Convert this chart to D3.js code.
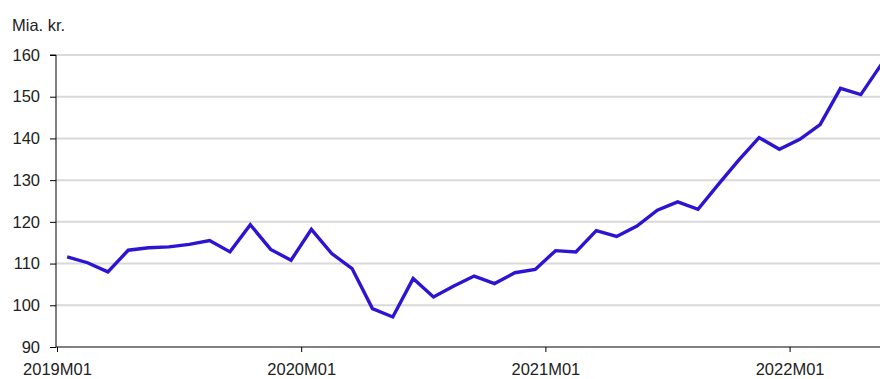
<!DOCTYPE html>
<html>
<head>
  <meta charset="utf-8">
  <script src="https://d3js.org/d3.v7.min.js"></script>
  <style>
    body { margin: 0; background: #fff; }
    svg { display: block; font-family: "Liberation Sans", Arial, sans-serif; }
  </style>
</head>
<body>
  <svg id="chart" width="880" height="379"></svg>
  <script>
  // months from 2019M01 to 2022M05
  const months = [
    "2019M01","2019M02","2019M03","2019M04","2019M05","2019M06","2019M07","2019M08","2019M09","2019M10","2019M11","2019M12",
    "2020M01","2020M02","2020M03","2020M04","2020M05","2020M06","2020M07","2020M08","2020M09","2020M10","2020M11","2020M12",
    "2021M01","2021M02","2021M03","2021M04","2021M05","2021M06","2021M07","2021M08","2021M09","2021M10","2021M11","2021M12",
    "2022M01","2022M02","2022M03","2022M04","2022M05"
  ];
  const values = [
    111.6, 110.2, 108.0, 113.2, 113.8, 114.0, 114.6, 115.5, 112.8, 119.3, 113.4, 110.8,
    118.2, 112.4, 108.8, 99.2, 97.2, 106.4, 102.0, 104.6, 107.0, 105.2, 107.8, 108.6,
    113.1, 112.8, 117.9, 116.5, 119.0, 122.8, 124.8, 123.0, 129.0, 134.8, 140.2, 137.4,
    139.8, 143.3, 152.0, 150.5, 157.7
  ];
  const yTicks = [90, 100, 110, 120, 130, 140, 150, 160];
  const xTickLabels = ["2019M01", "2020M01", "2021M01", "2022M01"];
  const unitLabel = "Mia. kr.";

  const svg = d3.select("#chart");
  const plotLeft = 56, plotTop = 55, plotBottom = 347;
  const monthW = 20.35;
  const fontSize = 16.5;

  const x = d3.scaleLinear().domain([0, months.length]).range([plotLeft + 1, plotLeft + 1 + monthW * months.length]);
  const y = d3.scaleLinear().domain([90, 160]).range([plotBottom, plotTop]);

  // gridlines
  svg.append("g")
    .selectAll("line")
    .data(yTicks.filter(d => d > 90))
    .join("line")
    .attr("x1", plotLeft).attr("x2", 880)
    .attr("y1", d => y(d)).attr("y2", d => y(d))
    .attr("stroke", "#d9d9d9")
    .attr("stroke-width", 2);

  // y axis
  const yAxis = svg.append("g")
    .attr("transform", `translate(${plotLeft},0)`)
    .call(d3.axisLeft(y).tickValues(yTicks).tickSize(6).tickPadding(10));
  yAxis.select(".domain").attr("stroke", "#000").attr("d", `M-6,${plotTop}H0V${plotBottom}`);
  yAxis.selectAll("text").attr("font-size", fontSize).attr("fill", "#222").attr("font-family", "Liberation Sans, Arial, sans-serif");

  // x axis
  const xAxis = svg.append("g")
    .attr("transform", `translate(0,${plotBottom})`)
    .call(d3.axisBottom(x)
      .tickValues(xTickLabels.map(l => months.indexOf(l)))
      .tickFormat(i => months[i])
      .tickSize(5).tickPadding(11));
  xAxis.select(".domain").attr("stroke", "#000").attr("d", `M${plotLeft},0H880`);
  xAxis.selectAll("text").attr("font-size", fontSize).attr("fill", "#222").attr("font-family", "Liberation Sans, Arial, sans-serif");

  // unit label
  svg.append("text")
    .attr("x", 12).attr("y", 31)
    .attr("font-size", fontSize).attr("fill", "#222")
    .text(unitLabel);

  // line
  const line = d3.line()
    .x((d, i) => x(i + 0.5))
    .y(d => y(d));
  svg.append("path")
    .datum(values)
    .attr("fill", "none")
    .attr("stroke", "#2c14d2")
    .attr("stroke-width", 3.4)
    .attr("stroke-linejoin", "miter")
    .attr("d", line);
  </script>
</body>
</html>
